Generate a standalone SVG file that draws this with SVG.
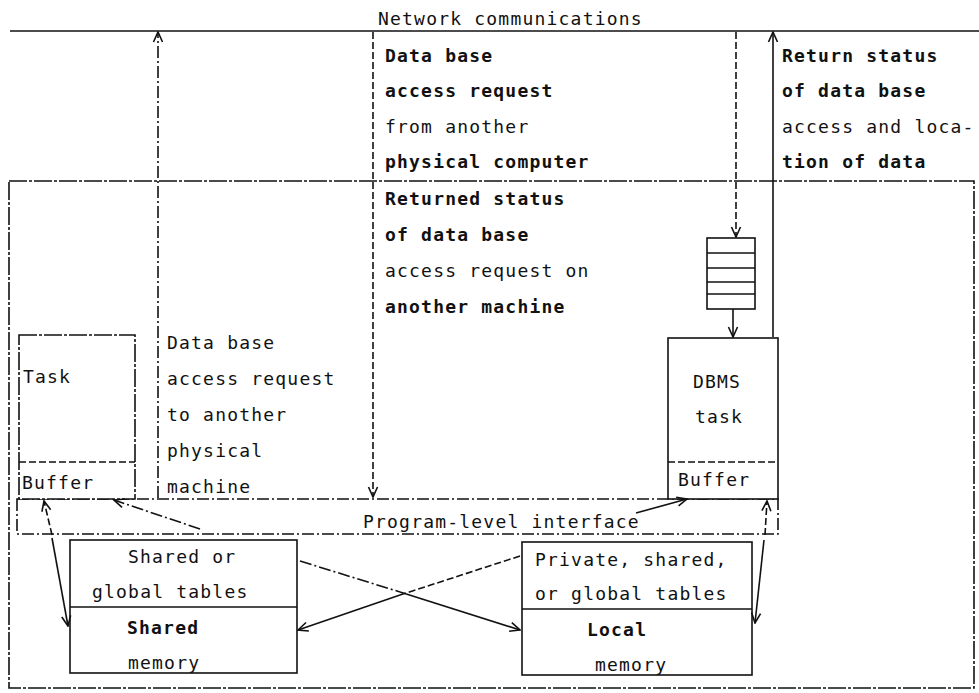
<svg xmlns="http://www.w3.org/2000/svg" width="979" height="693" viewBox="0 0 979 693">
<defs>
<marker id="ah" viewBox="0 0 12 12" refX="11" refY="6" markerWidth="12" markerHeight="12" markerUnits="userSpaceOnUse" orient="auto-start-reverse">
<path d="M1,1.5 L11,6 L1,10.5" fill="none" stroke="#111" stroke-width="1.6"/>
</marker>
</defs>
<style>
.t{font-family:"DejaVu Sans Mono","Liberation Mono",monospace;font-size:18px;letter-spacing:1.2px;fill:#111}
.b{font-weight:bold}
.s{fill:none;stroke:#111;stroke-width:1.6}
.w{fill:#fff;stroke:#111;stroke-width:1.6}
.dd{stroke-dasharray:12,3,2,3}
.da{stroke-dasharray:7,3}
.lo{stroke-dasharray:18,2,3,2}
</style>
<rect width="979" height="693" fill="#fff"/>

<g id="network">
<line class="s" x1="10" y1="31" x2="979" y2="31"/>
<text class="t" x="378" y="25">Network communications</text>
</g>

<g id="machine">
<rect class="s lo" x="9" y="181" width="965" height="507"/>
</g>

<g id="interface">
<rect class="s dd" x="17" y="499" width="761" height="35"/>
<text class="t" x="363" y="528">Program-level interface</text>
</g>

<g id="task">
<rect class="w lo" x="19" y="335" width="116" height="164"/>
<line class="s da" x1="19" y1="462" x2="135" y2="462"/>
<text class="t" x="23" y="383">Task</text>
<text class="t" x="22" y="489">Buffer</text>
</g>

<g id="queue">
<rect class="s" x="707" y="238" width="48" height="71"/>
<line class="s" x1="707" y1="253" x2="755" y2="253"/>
<line class="s" x1="707" y1="268" x2="755" y2="268"/>
<line class="s" x1="707" y1="282" x2="755" y2="282"/>
<line class="s" x1="707" y1="294" x2="755" y2="294"/>
</g>

<g id="dbms">
<rect class="w" x="668" y="338" width="110" height="161"/>
<line class="s da" x1="668" y1="462" x2="778" y2="462"/>
<text class="t" x="693" y="388">DBMS</text>
<text class="t" x="695" y="423">task</text>
<text class="t" x="678" y="486">Buffer</text>
</g>

<g id="shared">
<rect class="w" x="70" y="540" width="227" height="133"/>
<line class="s" x1="70" y1="607" x2="297" y2="607"/>
<text class="t" x="128" y="563">Shared or</text>
<text class="t" x="92" y="598">global tables</text>
<text class="t b" x="127" y="634">Shared</text>
<text class="t" x="128" y="669">memory</text>
</g>

<g id="local">
<rect class="w" x="522" y="542" width="230" height="133"/>
<line class="s" x1="522" y1="609" x2="752" y2="609"/>
<text class="t" x="535" y="566">Private, shared,</text>
<text class="t" x="535" y="600">or global tables</text>
<text class="t b" x="587" y="636">Local</text>
<text class="t" x="595" y="671">memory</text>
</g>

<g id="labels">
<text class="t b" x="385" y="62">Data base</text>
<text class="t b" x="385" y="97">access request</text>
<text class="t" x="385" y="133">from another</text>
<text class="t b" x="385" y="168">physical computer</text>
<text class="t b" x="782" y="62">Return status</text>
<text class="t b" x="782" y="97">of data base</text>
<text class="t" x="782" y="133">access and loca-</text>
<text class="t b" x="782" y="168">tion of data</text>
<text class="t b" x="385" y="205">Returned status</text>
<text class="t b" x="385" y="241">of data base</text>
<text class="t" x="385" y="277">access request on</text>
<text class="t b" x="385" y="313">another machine</text>
<text class="t" x="167" y="349">Data base</text>
<text class="t" x="167" y="385">access request</text>
<text class="t" x="167" y="421">to another</text>
<text class="t" x="167" y="457">physical</text>
<text class="t" x="167" y="493">machine</text>
</g>

<g id="connectors">
<path class="s dd" d="M158,498 V32" marker-end="url(#ah)"/>
<path class="s da" d="M373,32 V497" marker-end="url(#ah)"/>
<path class="s da" d="M736,32 V237" marker-end="url(#ah)"/>
<path class="s" d="M733,309 V337" marker-end="url(#ah)"/>
<path class="s" d="M773,337 V32" marker-end="url(#ah)"/>
<path class="s dd" d="M200,529 L114,500" marker-end="url(#ah)"/>
<path class="s dd" d="M300,561 L400,592"/>
<path class="s" d="M400,592 L520,630" marker-end="url(#ah)"/>
<path class="s da" d="M520,556 L400,595"/>
<path class="s" d="M400,595 L298,630" marker-end="url(#ah)"/>
<path class="s" d="M636,513 L687,499" marker-end="url(#ah)"/>
<path class="s da" d="M52,535 L44,501" marker-end="url(#ah)"/>
<path class="s" d="M52,538 L68,626" marker-end="url(#ah)"/>
<path class="s da" d="M765,535 L767,501" marker-end="url(#ah)"/>
<path class="s" d="M764,540 L755,623" marker-end="url(#ah)"/>
</g>
</svg>
